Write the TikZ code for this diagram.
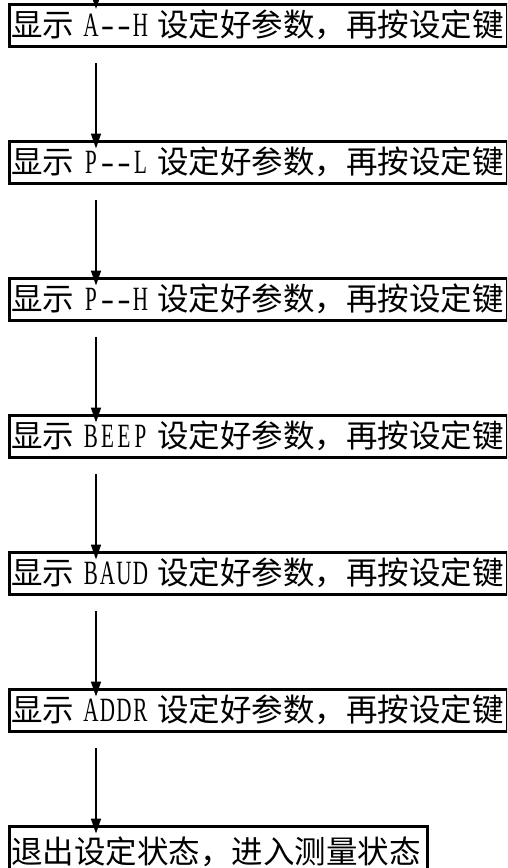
\documentclass[tikz,border=0pt]{standalone}
\usepackage{fontspec}
\usepackage{graphicx}
\setmainfont{Noto Sans CJK SC}
\newfontfamily\latinf[FakeStretch=0.62]{Liberation Serif}
\usetikzlibrary{arrows.meta}
\newcommand\hwc[1]{\makebox[16.5pt]{\fontsize{34pt}{36pt}\latinf #1}}
\newcommand\hwd{\makebox[16.5pt]{\fontsize{34pt}{36pt}\latinf\scalebox{1.9}[1]{-}}}
\newcommand\hsp{\hspace*{8.5pt}}
\tikzset{
  stepbox/.style={draw, line width=2.5pt, anchor=north west, inner xsep=2pt, inner ysep=0pt,
    minimum height=42pt, text width=494pt, align=left,
    font=\fontsize{31.5pt}{36pt}\selectfont},
  arr/.style={line width=1.6pt, -{Triangle[length=15pt,width=10pt]}}
}
\begin{document}
\begin{tikzpicture}[x=1pt,y=-1pt]
\useasboundingbox (0,0) rectangle (507,868);
\clip (0,0) rectangle (507,868);
\node[stepbox] (b1) at (8,3)   {显示\hsp\hwc{A}\hwd\hwd\hwc{H}\hsp 设定好参数，再按设定键};
\node[stepbox] (b2) at (8,140) {显示\hsp\hwc{P}\hwd\hwd\hwc{L}\hsp 设定好参数，再按设定键};
\node[stepbox] (b3) at (8,277) {显示\hsp\hwc{P}\hwd\hwd\hwc{H}\hsp 设定好参数，再按设定键};
\node[stepbox] (b4) at (8,414) {显示\hsp\hwc{B}\hwc{E}\hwc{E}\hwc{P}\hsp 设定好参数，再按设定键};
\node[stepbox] (b5) at (8,551) {显示\hsp\hwc{B}\hwc{A}\hwc{U}\hwc{D}\hsp 设定好参数，再按设定键};
\node[stepbox] (b6) at (8,688) {显示\hsp\hwc{A}\hwc{D}\hwc{D}\hwc{R}\hsp 设定好参数，再按设定键};
\node[stepbox, text width=414pt, minimum height=52pt] (b7) at (8,825) {\raisebox{4pt}{退出设定状态，进入测量状态}};
% connector end points
\coordinate (s0) at (96,-30);
\coordinate (t1) at (96,9);
\coordinate (s1) at (96,63);   \coordinate (t2) at (96,148.5);
\coordinate (s2) at (96,200);  \coordinate (t3) at (96,285.5);
\coordinate (s3) at (96,337);  \coordinate (t4) at (96,422.5);
\coordinate (s4) at (96,474);  \coordinate (t5) at (96,559.5);
\coordinate (s5) at (96,611);  \coordinate (t6) at (96,696.5);
\coordinate (s6) at (96,748);  \coordinate (t7) at (96,833.5);
\draw[arr] (s0) -- (t1);
\draw[arr] (s1) -- (t2);
\draw[arr] (s2) -- (t3);
\draw[arr] (s3) -- (t4);
\draw[arr] (s4) -- (t5);
\draw[arr] (s5) -- (t6);
\draw[arr] (s6) -- (t7);
\end{tikzpicture}
\end{document}
